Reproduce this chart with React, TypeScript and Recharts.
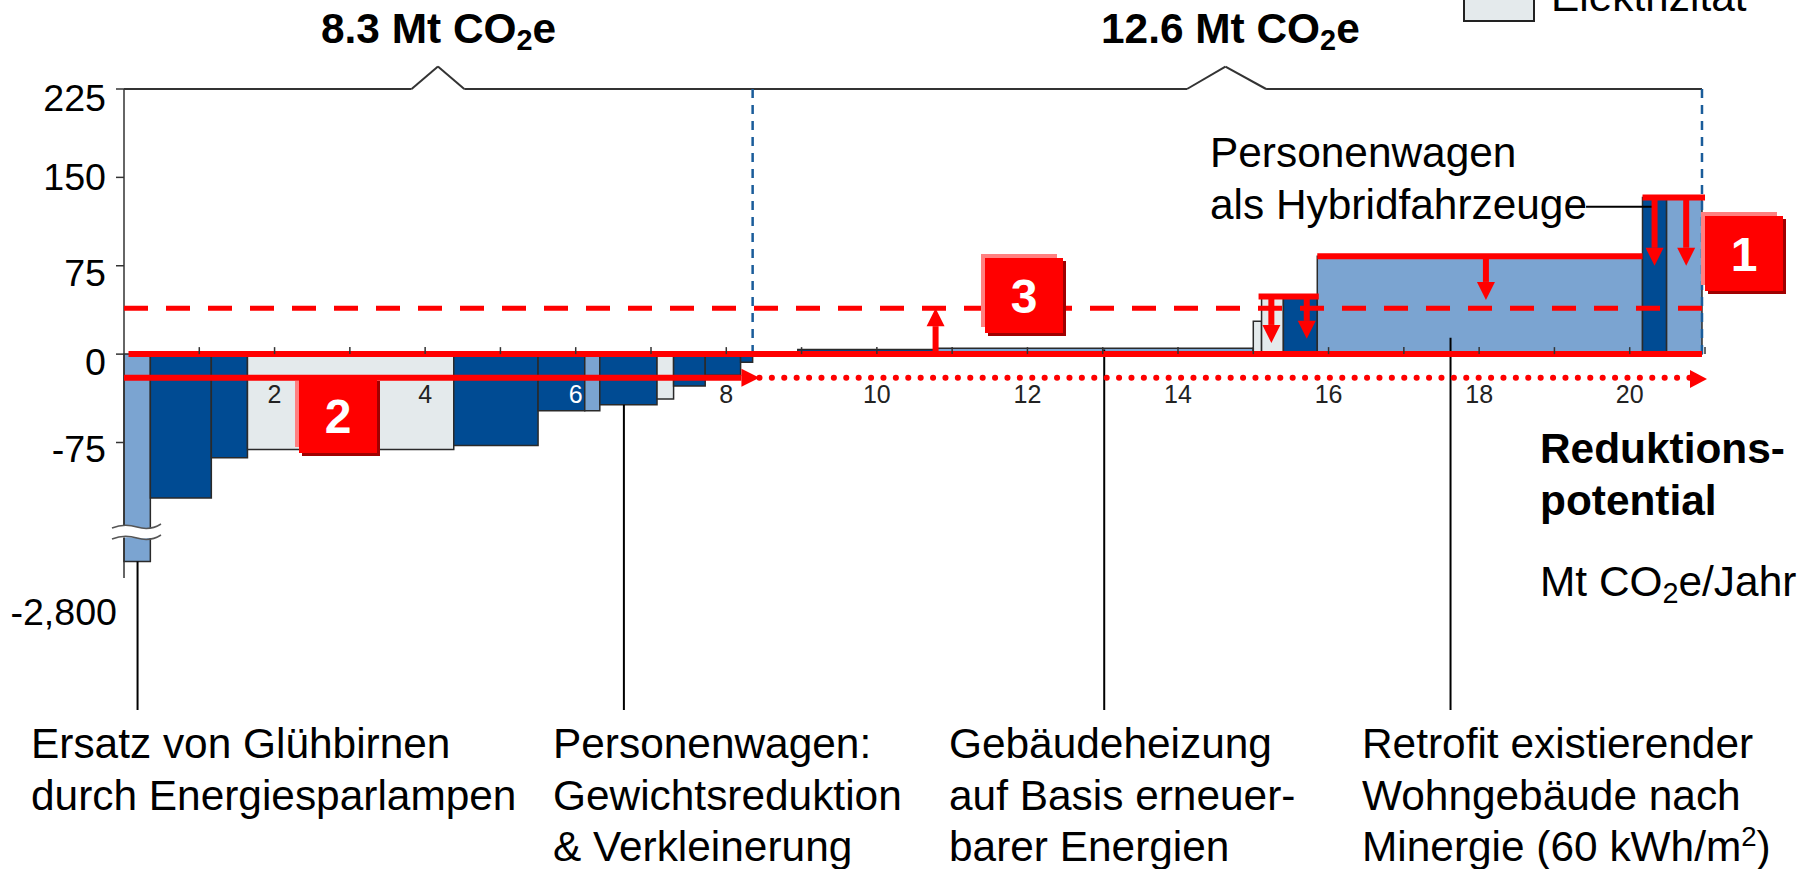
import { ComposedChart, XAxis, YAxis, ReferenceArea, ReferenceLine, Line } from "recharts";

const WIDTH = 1802;
const HEIGHT = 869;

// abatement curve: block edges in Mt CO2e/year, costs per tonne
const blockStart = [0, 0.35, 1.16, 1.64, 4.38, 5.5, 6.12, 6.32, 7.08, 7.3, 7.72, 8.19, 8.95, 10.8, 15.0, 15.11, 15.4, 15.85, 20.17, 20.49];
const blockEnd = [0.35, 1.16, 1.64, 4.38, 5.5, 6.12, 6.32, 7.08, 7.3, 7.72, 8.19, 8.35, 10.8, 15.0, 15.11, 15.4, 15.85, 20.17, 20.49, 20.96];
const blockCost = [-1160, -122, -88, -81, -77.5, -48, -48, -43, -38, -27, -18, -7, 4, 5, 28, 49, 49, 83, 133, 133];
const blockSector = ["building", "transport", "transport", "power", "transport", "transport", "building", "transport", "power", "transport", "transport", "transport", "transport", "building", "power", "power", "transport", "building", "transport", "building"];

const sectorColor: Record<string, string> = { building: "#7ba4d1", transport: "#004b93", power: "#e4eaec" };

const yTickValues = [225, 150, 75, 0, -75, -2800];
const xTickValues = [1, 2, 3, 4, 5, 6, 7, 8, 9, 10, 11, 12, 13, 14, 15, 16, 17, 18, 19, 20, 21];

const TARGET_COST = 39;
const SPLIT_A = 8.35;
const SPLIT_B = 20.96;

// y axis is broken below -150
const BREAK_AT = -150;
const BREAK_SLOPE = 0.02566;
const toAxis = (v: number) => (v >= BREAK_AT ? v : BREAK_AT + (v - BREAK_AT) * BREAK_SLOPE);
const AXIS_BOTTOM = toAxis(-2800);
const labelByAxis = new Map(yTickValues.map((v) => [toAxis(v), v]));

const yNudge: Record<number, number> = { 225: 9, 150: 0, 75: 7, 0: 8, "-75": 7, "-2800": 1 };

const FONT = "'Liberation Sans', Arial, sans-serif";
const RED = "#ff0000";
const PLOT_TOP = 89;
const PLOT_BOTTOM = 611;
const ZERO_Y = PLOT_TOP + ((PLOT_BOTTOM - PLOT_TOP) * 225) / (225 - AXIS_BOTTOM);

function YTick(props: any) {
  const { x, y, payload } = props;
  const value = labelByAxis.get(payload.value) ?? 0;
  return (
    <g>
      {value !== -2800 && <line x1={x} x2={x + 8} y1={y} y2={y} stroke="#333" strokeWidth={1.5} />}
      <text x={value === -2800 ? 117 : 106} y={y + yNudge[value] + 13} textAnchor="end" fontSize={37.6} fontFamily={FONT} fill="#000">
        {value.toLocaleString("en-US")}
      </text>
    </g>
  );
}

// tick marks and labels hang off the zero line, not the bottom of the plot
function XTick(props: any) {
  const { x, payload } = props;
  const v = payload.value as number;
  return (
    <g>
      <line x1={x} x2={x} y1={ZERO_Y - 7} y2={ZERO_Y} stroke="#333" strokeWidth={1.5} />
      {v % 2 === 0 && (
        <text x={x} y={ZERO_Y + 49} textAnchor="middle" fontSize={25} fontFamily={FONT} fill={v === 6 ? "#fff" : "#222"}>
          {v}
        </text>
      )}
    </g>
  );
}

function ArrowShape(props: any) {
  const { x1, y1, x2, y2, stroke, strokeWidth } = props;
  const dx = x2 - x1;
  const dy = y2 - y1;
  const len = Math.hypot(dx, dy) || 1;
  const ux = dx / len;
  const uy = dy / len;
  const headLen = 18;
  const half = 9;
  const bx = x2 - ux * headLen;
  const by = y2 - uy * headLen;
  return (
    <g>
      <line x1={x1} y1={y1} x2={bx} y2={by} stroke={stroke} strokeWidth={strokeWidth} />
      <polygon points={`${x2},${y2} ${bx - uy * half},${by + ux * half} ${bx + uy * half},${by - ux * half}`} fill={stroke} />
    </g>
  );
}

function seg(x1: number, y1: number, x2: number, y2: number) {
  return [
    { x: x1, y: y1 },
    { x: x2, y: y2 },
  ];
}

const braceX = [0, 3.82, 4.17, 4.52, 14.12, 14.63, 15.17, 20.96];
const braceY = [225, 225, 244, 225, 225, 244, 225, 225];

const targetLine = [
  { x: 0, target: TARGET_COST },
  { x: SPLIT_B, target: TARGET_COST },
];

const leaders = [
  seg(0.18, toAxis(-1160), 0.18, -302),
  seg(6.64, -43, 6.64, -302),
  seg(13.02, 4, 13.02, -302),
  seg(17.62, 14, 17.62, -302),
  seg(19.42, 125, 20.32, 125),
];

const capLines = [
  seg(15.07, 49, 15.87, 49),
  seg(15.85, 83, 20.17, 83),
  seg(20.17, 133, 21.0, 133),
];

const downArrows = [
  seg(15.24, 49, 15.24, 9.5),
  seg(15.71, 49, 15.71, 13),
  seg(18.09, 83, 18.09, 46),
  seg(20.33, 133, 20.33, 75),
  seg(20.75, 133, 20.75, 75),
];

const textStyle: React.CSSProperties = {
  position: "absolute",
  fontFamily: FONT,
  fontSize: 42.4,
  lineHeight: "51.7px",
  color: "#000",
  whiteSpace: "nowrap",
  margin: 0,
};

const sub: React.CSSProperties = { fontSize: "0.68em", verticalAlign: "-0.25em", lineHeight: 0 };

function Co2() {
  return (
    <>
      CO<span style={sub}>2</span>e
    </>
  );
}

function RedBox({ left, top, w, h, label, pinkDy = -4 }: { left: number; top: number; w: number; h: number; label: string; pinkDy?: number }) {
  const layer = (dx: number, dy: number, color: string, lw = w, lh = h): React.CSSProperties => ({
    position: "absolute",
    left: left + dx,
    top: top + dy,
    width: lw,
    height: lh,
    background: color,
  });
  return (
    <>
      <div style={layer(-4, pinkDy, "#ff8080", w - 2, h - 2 + (-4 - pinkDy))} />
      <div style={layer(3, 3, "#a00000")} />
      <div
        style={{
          ...layer(0, 0, RED),
          color: "#fff",
          fontFamily: FONT,
          fontWeight: 700,
          fontSize: 48,
          textAlign: "center",
          lineHeight: `${h + 3}px`,
        }}
      >
        {label}
      </div>
    </>
  );
}

const bottomLabels = [
  { left: 31, lines: ["Ersatz von Glühbirnen", "durch Energiesparlampen"] },
  { left: 553, lines: ["Personenwagen:", "Gewichtsreduktion", "& Verkleinerung"] },
  { left: 949, lines: ["Gebäudeheizung", "auf Basis erneuer-", "barer Energien"] },
  { left: 1362, lines: ["Retrofit existierender", "Wohngebäude nach"] },
];

export default function App() {
  return (
    <div style={{ position: "absolute", left: 0, top: 0, width: WIDTH, height: HEIGHT, overflow: "hidden", background: "#fff" }}>
      <ComposedChart
        width={WIDTH}
        height={HEIGHT}
        data={[]}
        margin={{ top: PLOT_TOP, right: WIDTH - 1705, bottom: HEIGHT - PLOT_BOTTOM - 1, left: 0 }}
      >
        <XAxis
          type="number"
          dataKey="x"
          domain={[0, 21]}
          ticks={xTickValues}
          interval={0}
          height={1}
          axisLine={false}
          tickLine={false}
          tick={<XTick />}
          allowDataOverflow
        />
        <YAxis
          type="number"
          width={124}
          domain={[AXIS_BOTTOM, 225]}
          ticks={yTickValues.map(toAxis)}
          interval={0}
          axisLine={false}
          tickLine={false}
          tick={<YTick />}
          allowDataOverflow
        />

        {blockStart.map((start, i) => (
          <ReferenceArea
            key={i}
            x1={start}
            x2={blockEnd[i]}
            y1={0}
            y2={toAxis(blockCost[i])}
            fill={sectorColor[blockSector[i]]}
            fillOpacity={1}
            stroke="#2a2a2a"
            strokeWidth={1.5}
            ifOverflow="visible"
          />
        ))}

        {/* y axis line stops a little under the broken bar */}
        <ReferenceLine segment={seg(0, 225, 0, -190)} stroke="#333" strokeWidth={1.5} ifOverflow="visible" />

        {braceX.slice(1).map((x, i) => (
          <ReferenceLine key={i} segment={seg(braceX[i], braceY[i], x, braceY[i + 1])} stroke="#333" strokeWidth={2} ifOverflow="visible" />
        ))}

        <ReferenceLine segment={seg(SPLIT_A, 225, SPLIT_A, 0)} stroke="#1a5c9a" strokeWidth={2.5} strokeDasharray="9 7" ifOverflow="visible" />
        <ReferenceLine segment={seg(SPLIT_B, 225, SPLIT_B, 0)} stroke="#1a5c9a" strokeWidth={2.5} strokeDasharray="9 7" ifOverflow="visible" />

        {leaders.map((s, i) => (
          <ReferenceLine key={i} segment={s} stroke="#000" strokeWidth={2} ifOverflow="visible" />
        ))}

        <ReferenceLine segment={seg(0.06, 0, 20.96, 0)} stroke={RED} strokeWidth={6} ifOverflow="visible" />
        <Line
          data={targetLine}
          dataKey="target"
          dot={false}
          stroke={RED}
          strokeWidth={5}
          strokeDasharray="24 18"
          isAnimationActive={false}
          legendType="none"
        />
        {capLines.map((s, i) => (
          <ReferenceLine key={i} segment={s} stroke={RED} strokeWidth={6} ifOverflow="visible" />
        ))}
        {downArrows.map((s, i) => (
          <ReferenceLine key={i} segment={s} stroke={RED} strokeWidth={6} ifOverflow="visible" shape={<ArrowShape />} />
        ))}
        <ReferenceLine segment={seg(10.78, 0, 10.78, TARGET_COST)} stroke={RED} strokeWidth={6} ifOverflow="visible" shape={<ArrowShape />} />
        <ReferenceLine segment={seg(0, -20, 8.44, -20)} stroke={RED} strokeWidth={6} ifOverflow="visible" shape={<ArrowShape />} />
        <ReferenceLine segment={seg(8.44, -20, 20.85, -20)} stroke={RED} strokeWidth={6} strokeLinecap="round" strokeDasharray="0.1 12.3" ifOverflow="visible" />
      </ComposedChart>

      <svg width={WIDTH} height={HEIGHT} style={{ position: "absolute", left: 0, top: 0 }}>
        {/* axis break */}
        <path d="M112,528 Q124,523 137,527 T161,524 L161,535 Q149,540 137,538 T112,539 Z" fill="#fff" />
        <path d="M112,528 Q124,523 137,527 T161,524" fill="none" stroke="#555" strokeWidth={1.5} />
        <path d="M112,539 Q124,534 137,538 T161,535" fill="none" stroke="#555" strokeWidth={1.5} />
        {/* end of dotted arrow */}
        <polygon points="1707,379 1690,370 1690,388" fill={RED} />
        {/* legend swatch, cut by the page edge */}
        <rect x={1464} y={-20} width={70} height={41} fill="#e4eaec" stroke="#222" strokeWidth={2} />
      </svg>

      <RedBox left={1705} top={216} w={78} h={75} label="1" />
      <RedBox left={299} top={378} w={78} h={75} label="2" pinkDy={3} />
      <RedBox left={985} top={258} w={78} h={75} label="3" />

      <div style={{ ...textStyle, left: 321, top: 3, fontWeight: 700 }}>8.3 Mt <Co2 /></div>
      <div style={{ ...textStyle, left: 1101, top: 3, fontWeight: 700 }}>12.6 Mt <Co2 /></div>
      <div style={{ ...textStyle, left: 1551, top: -29 }}>Elektrizität</div>

      <div style={{ ...textStyle, left: 1210, top: 127 }}>Personenwagen<br />als Hybridfahrzeuge</div>

      <div style={{ ...textStyle, left: 1540, top: 423, fontWeight: 700 }}>Reduktions-<br />potential</div>
      <div style={{ ...textStyle, left: 1540, top: 556 }}>Mt <Co2 />/Jahr</div>

      {bottomLabels.map((b) => (
        <div key={b.left} style={{ ...textStyle, left: b.left, top: 718 }}>
          {b.lines.map((l) => (
            <div key={l}>{l}</div>
          ))}
          {b.left === 1362 && (
            <div>
              Minergie (60 kWh/m<sup style={{ fontSize: "0.65em", verticalAlign: "0.55em", lineHeight: 0 }}>2</sup>)
            </div>
          )}
        </div>
      ))}
    </div>
  );
}
